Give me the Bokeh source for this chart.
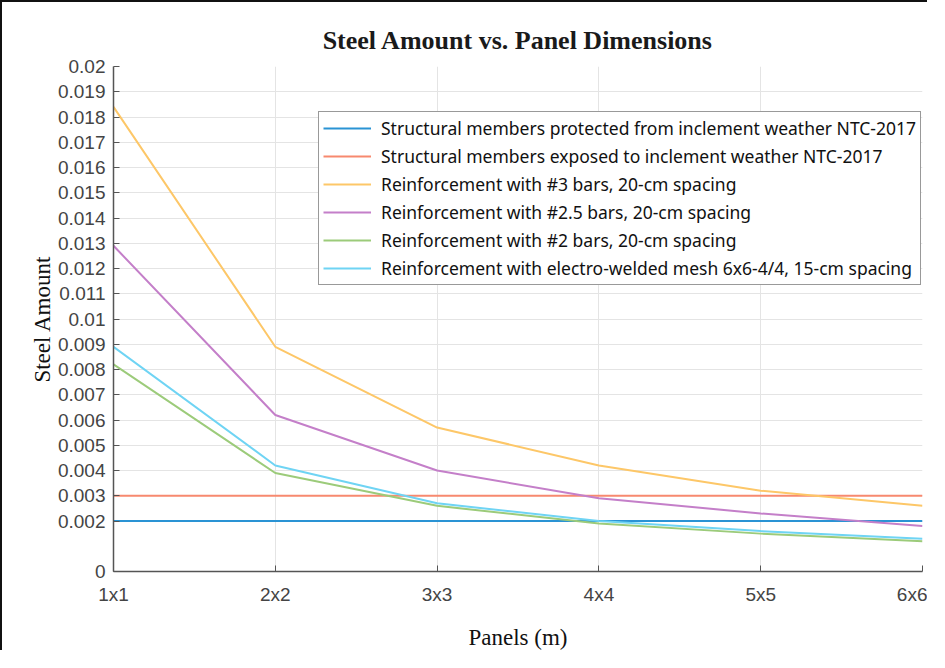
from bokeh.plotting import figure
from bokeh.models import FixedTicker, Legend, LegendItem, Range1d
from bokeh.embed import file_html
from bokeh.resources import INLINE

categories = ["1x1", "2x2", "3x3", "4x4", "5x5", "6x6"]
protected = [0.002, 0.002, 0.002, 0.002, 0.002, 0.002]
exposed = [0.003, 0.003, 0.003, 0.003, 0.003, 0.003]
bars_3 = [0.0184, 0.0089, 0.0057, 0.0042, 0.0032, 0.0026]
bars_25 = [0.0129, 0.0062, 0.0040, 0.0029, 0.0023, 0.0018]
bars_2 = [0.0082, 0.0039, 0.0026, 0.0019, 0.0015, 0.0012]
mesh = [0.0089, 0.0042, 0.0027, 0.0020, 0.0016, 0.0013]
y_ticks = [0, 0.002, 0.003, 0.004, 0.005, 0.006, 0.007, 0.008, 0.009, 0.01,
           0.011, 0.012, 0.013, 0.014, 0.015, 0.016, 0.017, 0.018, 0.019, 0.02]
y_tick_labels = ["0", "0.002", "0.003", "0.004", "0.005", "0.006", "0.007", "0.008",
                 "0.009", "0.01", "0.011", "0.012", "0.013", "0.014", "0.015", "0.016",
                 "0.017", "0.018", "0.019", "0.02"]
series_labels = [
    "Structural members protected from inclement weather NTC-2017",
    "Structural members exposed to inclement weather NTC-2017",
    "Reinforcement with #3 bars, 20-cm spacing",
    "Reinforcement with #2.5 bars, 20-cm spacing",
    "Reinforcement with #2 bars, 20-cm spacing",
    "Reinforcement with electro-welded mesh 6x6-4/4, 15-cm spacing",
]
colors = ["#2a93d4", "#f7896f", "#fdc768", "#c47fc9", "#9ccb7a", "#6fd4f4"]

x = list(range(1, len(categories) + 1))

p = figure(width=927, height=650, output_backend="svg", toolbar_location=None,
           x_range=Range1d(1, 6), y_range=Range1d(0, 0.02),
           min_border_left=111, min_border_right=7, min_border_top=64, min_border_bottom=81)
p.styles = {"border-left": "2px solid #111", "border-top": "2px solid #111"}

p.title.text = "Steel Amount vs. Panel Dimensions"
p.title.align = "center"
p.title.text_font = "Liberation Serif"
p.title.text_font_size = "26px"
p.title.text_font_style = "bold"
p.title.text_color = "#1a1a1a"
p.title.offset = 0
p.title.standoff = 24

p.outline_line_color = None

p.xaxis.ticker = FixedTicker(ticks=x)
p.xaxis.major_label_overrides = {i: c for i, c in zip(x, categories)}
p.yaxis.ticker = FixedTicker(ticks=y_ticks)
p.yaxis.major_label_overrides = {t: l for t, l in zip(y_ticks, y_tick_labels)}

for ax in (p.xaxis, p.yaxis):
    ax.axis_line_color = "#555555"
    ax.axis_line_width = 1.5
    ax.major_tick_line_color = "#555555"
    ax.major_tick_in = 6
    ax.major_tick_out = 0
    ax.minor_tick_line_color = None
    ax.major_label_text_font = "Liberation Sans"
    ax.major_label_text_font_size = "19px"
    ax.major_label_text_color = "#444444"
    ax.axis_label_text_font = "Liberation Serif"
    ax.axis_label_text_font_size = "23px"
    ax.axis_label_text_font_style = "normal"
    ax.axis_label_text_color = "#111111"

p.xaxis.axis_label = "Panels (m)"
p.yaxis.axis_label = "Steel Amount"
p.xaxis.major_label_standoff = 12
p.xaxis.axis_label_standoff = 17
p.yaxis.major_label_standoff = 8
p.yaxis.axis_label_standoff = 0

p.grid.grid_line_color = "#e4e4e4"
p.grid.grid_line_width = 1

series = [protected, exposed, bars_3, bars_25, bars_2, mesh]
items = []
for vals, lab, col in zip(series, series_labels, colors):
    r = p.line(x, vals, line_color=col, line_width=2)
    items.append(LegendItem(label=lab, renderers=[r]))

legend = Legend(items=items, location=(205, 286))
legend.label_text_font = "Noto Sans"
legend.label_text_font_size = "17.5px"
legend.label_text_color = "#111111"
legend.glyph_width = 48
legend.glyph_height = 22
legend.label_height = 22
legend.spacing = 4
legend.padding = 4
legend.margin = 0
legend.label_standoff = 10
legend.border_line_color = "#333333"
legend.border_line_width = 1.5
legend.background_fill_alpha = 1
p.add_layout(legend, "center")

open("out.html", "w").write(file_html(p, INLINE))
